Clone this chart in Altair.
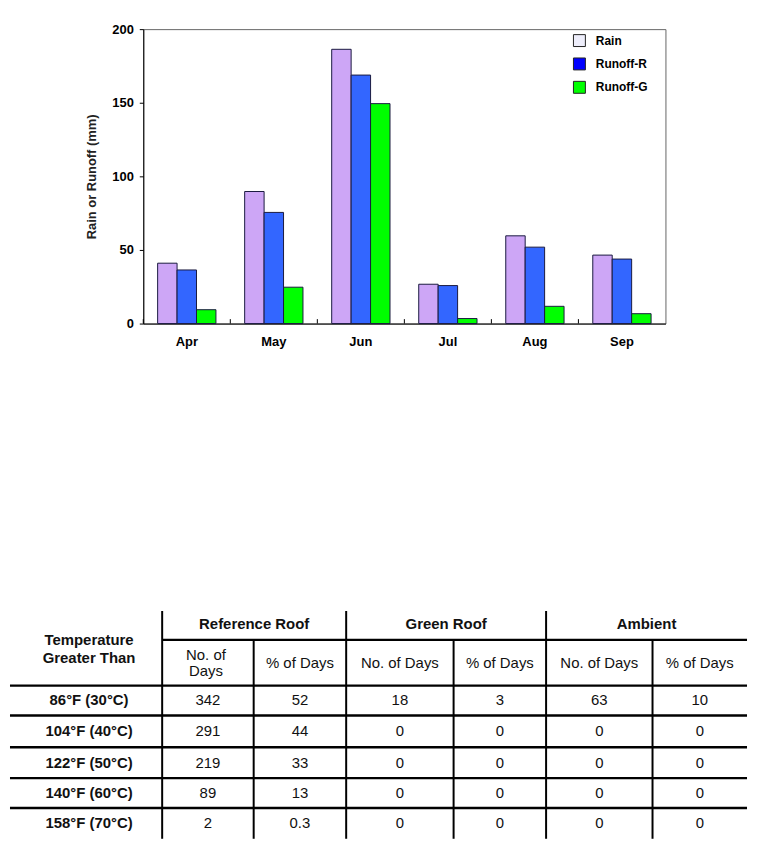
import altair as alt
import pandas as pd

# ---------------- data: bar chart ----------------
months = ["Apr", "May", "Jun", "Jul", "Aug", "Sep"]
series = ["Rain", "Runoff-R", "Runoff-G"]
rain = [41, 89.7, 186.3, 26.7, 59.6, 46.5]
runoff_r = [36.4, 75.5, 168.8, 25.8, 51.9, 43.8]
runoff_g = [9.4, 24.7, 149.4, 3.4, 11.7, 6.7]
y_ticks = [0, 50, 100, 150, 200]

# ---------------- data: table ----------------
temp_labels = ["86°F (30°C)", "104°F (40°C)", "122°F (50°C)", "140°F (60°C)", "158°F (70°C)"]
ref_days = ["342", "291", "219", "89", "2"]
ref_pct = ["52", "44", "33", "13", "0.3"]
green_days = ["18", "0", "0", "0", "0"]
green_pct = ["3", "0", "0", "0", "0"]
amb_days = ["63", "0", "0", "0", "0"]
amb_pct = ["10", "0", "0", "0", "0"]
group_headers = ["Reference Roof", "Green Roof", "Ambient"]
corner_header = ["Temperature", "Greater Than"]
sub_headers = [["No. of", "Days"], ["% of Days"], ["No. of Days"], ["% of Days"], ["No. of Days"], ["% of Days"]]

# ---------------- styles / layout ----------------
FONT = "Liberation Sans"
bar_colors = ["#CDA6F6", "#3366FF", "#00FF00"]
legend_colors = ["#EEEEFB", "#0000FF", "#00FF00"]

# table layout (page pixel units)
COL_EDGES = [8, 161, 253, 346, 454, 547, 654, 749]
GROUP_EDGES = [161, 346, 547, 749]
T_TOP, T_GROUP_LINE, T_HEAD_LINE, T_BOTTOM = 612, 641, 687, 841
ROW_EDGES = [687, 717, 749, 780, 810, 841]

PAD_INNER, PAD_OUTER = 0.33, 0.165
PLOT_W, PLOT_H = 525, 296
STEP = PLOT_W / len(months)

# ---------------- bar chart ----------------
rows = []
for i, m in enumerate(months):
    for s, vals in zip(series, [rain, runoff_r, runoff_g]):
        rows.append({"month": m, "series": s, "value": vals[i]})
df = pd.DataFrame(rows)
mdf = pd.DataFrame({"month": months})

x_axis = alt.Axis(title=None, labelAngle=0, ticks=False, domainColor="black",
                  labelFont=FONT, labelFontWeight="bold", labelFontSize=13,
                  labelColor="black", labelPadding=12, grid=False)
x_scale = alt.Scale(domain=months, paddingInner=PAD_INNER, paddingOuter=PAD_OUTER)
y_scale = alt.Scale(domain=[0, 200], nice=False)
y_axis = alt.Axis(title="Rain or Runoff (mm)", values=y_ticks, grid=False,
                  domainColor="black", tickColor="black", tickSize=4,
                  labelFont=FONT, labelFontWeight="bold", labelFontSize=13,
                  labelColor="black", labelPadding=6,
                  titleFont=FONT, titleFontSize=13, titleFontWeight="bold",
                  titleColor="#222", titlePadding=13)

bars = alt.Chart(df).mark_bar(stroke="#1a1a40", strokeWidth=1).encode(
    x=alt.X("month:N", sort=months, scale=x_scale, axis=x_axis),
    xOffset=alt.XOffset("series:N", sort=series, scale=alt.Scale(domain=series)),
    y=alt.Y("value:Q", scale=y_scale, axis=y_axis),
    color=alt.Color("series:N", scale=alt.Scale(domain=series, range=bar_colors), legend=None),
)

legend_layer = alt.Chart(df).mark_bar(strokeWidth=0).encode(
    x=alt.X("month:N", sort=months, scale=x_scale, axis=x_axis),
    xOffset=alt.XOffset("series:N", sort=series, scale=alt.Scale(domain=series)),
    y=alt.datum(0),
    fill=alt.Fill("series:N", sort=series,
                  scale=alt.Scale(domain=series, range=legend_colors),
                  legend=alt.Legend(title=None, orient="none", legendX=432, legendY=5,
                                    symbolType="square", symbolSize=144,
                                    symbolStrokeColor="#222", symbolStrokeWidth=1,
                                    symbolOpacity=1,
                                    labelFont=FONT, labelFontSize=12, labelFontWeight="bold",
                                    labelColor="black", labelOffset=10, rowPadding=6.5,
                                    padding=0)),
)

# small inward ticks halfway between month groups
tick_marks = alt.Chart(mdf).mark_rule(color="black", strokeWidth=1,
                                      xOffset=-PAD_INNER * STEP / 2).encode(
    x=alt.X("month:N", sort=months, scale=x_scale, axis=x_axis, bandPosition=0),
    y=alt.datum(0),
    y2=alt.datum(3),
)

bar_chart = alt.layer(bars, legend_layer, tick_marks).resolve_scale(
    color="independent", fill="independent"
).resolve_legend(
    color="independent", fill="independent"
).properties(
    width=PLOT_W, height=PLOT_H, view=alt.ViewBackground(stroke="#666666", strokeWidth=1)
)

# ---------------- table ----------------
hlines, vlines = [], []
hlines.append({"x": GROUP_EDGES[0], "x2": COL_EDGES[-1], "y": T_GROUP_LINE, "y2": T_GROUP_LINE})
for yv in ROW_EDGES[:-1]:
    hlines.append({"x": COL_EDGES[0], "x2": COL_EDGES[-1], "y": yv, "y2": yv})
for xv in GROUP_EDGES[:-1]:
    vlines.append({"x": xv, "x2": xv, "y": T_TOP, "y2": T_BOTTOM})
for k in (2, 4, 6):
    xv = COL_EDGES[k]
    vlines.append({"x": xv, "x2": xv, "y": T_GROUP_LINE, "y2": T_BOTTOM})

bold_txt, norm_txt = [], []
c0 = (COL_EDGES[0] + COL_EDGES[1]) / 2 + 3
bold_txt.append({"t": corner_header[0], "x": c0, "y": 641})
bold_txt.append({"t": corner_header[1], "x": c0, "y": 659})
for g, name in enumerate(group_headers):
    bold_txt.append({"t": name, "x": (GROUP_EDGES[g] + GROUP_EDGES[g + 1]) / 2,
                     "y": (T_TOP + T_GROUP_LINE) / 2 - 1})
for j, parts in enumerate(sub_headers):
    cx = (COL_EDGES[j + 1] + COL_EDGES[j + 2]) / 2
    cy = (T_GROUP_LINE + T_HEAD_LINE) / 2
    if len(parts) == 1:
        norm_txt.append({"t": parts[0], "x": cx, "y": cy})
    else:
        norm_txt.append({"t": parts[0], "x": cx - 2, "y": cy - 8})
        norm_txt.append({"t": parts[1], "x": cx - 2, "y": cy + 8})
cols = [ref_days, ref_pct, green_days, green_pct, amb_days, amb_pct]
for r in range(len(temp_labels)):
    cy = (ROW_EDGES[r] + ROW_EDGES[r + 1]) / 2
    bold_txt.append({"t": temp_labels[r], "x": c0, "y": cy})
    for j, col in enumerate(cols):
        cx = (COL_EDGES[j + 1] + COL_EDGES[j + 2]) / 2
        norm_txt.append({"t": col[r], "x": cx, "y": cy})

tx_scale = alt.Scale(domain=[142, 749], nice=False, zero=False)
ty_scale = alt.Scale(domain=[T_TOP, T_BOTTOM], nice=False, zero=False, reverse=True)


def rule_layer(data, width):
    return alt.Chart(pd.DataFrame(data)).mark_rule(color="black", strokeWidth=width).encode(
        x=alt.X("x:Q", scale=tx_scale, axis=None),
        x2="x2:Q",
        y=alt.Y("y:Q", scale=ty_scale, axis=None),
        y2="y2:Q",
    )


def text_layer(data, weight):
    return alt.Chart(pd.DataFrame(data)).mark_text(
        font=FONT, fontSize=15, fontWeight=weight, color="#111", baseline="middle", align="center"
    ).encode(
        x=alt.X("x:Q", scale=tx_scale, axis=None),
        y=alt.Y("y:Q", scale=ty_scale, axis=None),
        text="t:N",
    )


table_chart = alt.layer(
    rule_layer(hlines, 2.4), rule_layer(vlines, 2),
    text_layer(bold_txt, "bold"), text_layer(norm_txt, "normal"),
).properties(
    width=607, height=T_BOTTOM - T_TOP, view=alt.ViewBackground(stroke="transparent")
)

chart = alt.vconcat(bar_chart, table_chart, spacing=612 - 323, bounds="flush").resolve_scale(
    color="independent", fill="independent"
).resolve_legend(
    color="independent", fill="independent"
).properties(
    padding={"left": 0, "top": 12, "right": 0, "bottom": 0}
).configure(background="white")

chart.save("out.html", embed_options={"renderer": "svg", "actions": False})
